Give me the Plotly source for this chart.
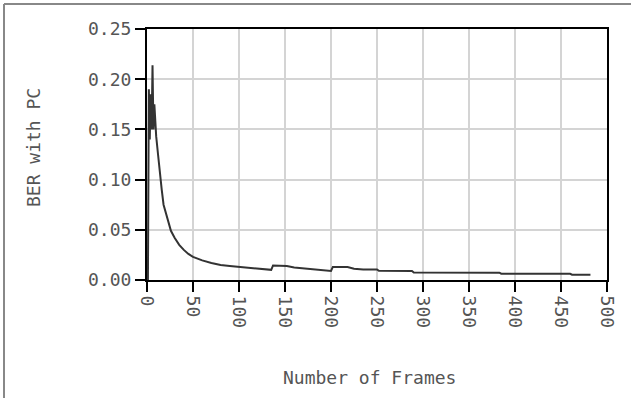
import plotly.graph_objects as go

frames = [0, 1, 2, 3, 4, 5, 6, 7, 8, 9, 10, 12, 14, 16, 18, 20, 23, 26, 30, 35, 40, 45, 50,
          60, 70, 80, 90, 100, 110, 120, 130, 135, 137, 145, 152, 160, 170, 180, 190,
          198, 200, 202, 210, 218, 225, 235, 250, 252, 288, 290, 383, 385, 460, 462, 482]
ber = [0.0, 0.0, 0.19, 0.14, 0.185, 0.15, 0.214, 0.15, 0.175, 0.155, 0.143, 0.125, 0.105,
       0.090, 0.075, 0.068, 0.057, 0.049, 0.042, 0.035, 0.030, 0.026, 0.023,
       0.0195, 0.017, 0.015, 0.014, 0.013, 0.012, 0.011, 0.0100, 0.0101, 0.0145, 0.0145,
       0.0140, 0.0125, 0.0115, 0.0108, 0.0100, 0.0085, 0.0090, 0.0130, 0.0132, 0.0130,
       0.0112, 0.0105, 0.0105, 0.0092, 0.0090, 0.0075, 0.0073, 0.0063, 0.0062, 0.0053, 0.0053]

x_ticks = [0, 50, 100, 150, 200, 250, 300, 350, 400, 450, 500]
y_ticks = [0.00, 0.05, 0.10, 0.15, 0.20, 0.25]
y_tick_text = ["0.00", "0.05", "0.10", "0.15", "0.20", "0.25"]

FONT = "DejaVu Sans Mono"
TXT = "#555555"

fig = go.Figure()
fig.add_trace(go.Scatter(x=frames, y=ber, mode="lines",
                         line=dict(color="#333333", width=2), showlegend=False))

W, H = 631, 398
L, R, T, B = 147, 24, 29, 118
pw, ph = W - L - R, H - T - B

def px2paper(px, py):
    return (px - L) / pw, (H - B - py) / ph

axis_common = dict(showline=True, linecolor="black", linewidth=2, mirror=True,
                   ticks="outside", ticklen=10, tickwidth=2, tickcolor="black",
                   showgrid=True, gridcolor="#d4d4d4", gridwidth=2, zeroline=False,
                   tickfont=dict(family=FONT, size=18, color=TXT))

fig.update_xaxes(range=[0, 500], tickvals=x_ticks, tickangle=90, **axis_common)
fig.update_yaxes(range=[0, 0.25], tickvals=y_ticks, ticktext=y_tick_text, **axis_common)

ax, _ = px2paper(33, 0)
_, ay = px2paper(0, 148)
bx, _ = px2paper(369, 0)
_, by = px2paper(0, 377)
fig.add_annotation(text="BER with PC", x=ax, y=ay, xref="paper", yref="paper",
                   textangle=-90, showarrow=False, xanchor="center", yanchor="middle",
                   font=dict(family=FONT, size=18, color=TXT))
fig.add_annotation(text="Number of Frames", x=bx, y=by, xref="paper", yref="paper",
                   showarrow=False, xanchor="center", yanchor="middle",
                   font=dict(family=FONT, size=18, color=TXT))

x0, y0 = px2paper(4, 398)
x1, y1 = px2paper(4, 4)
x2, y2 = px2paper(631, 4)
fig.add_shape(type="line", xref="paper", yref="paper", x0=x0, y0=y0, x1=x1, y1=y1,
              line=dict(color="#888888", width=2))
fig.add_shape(type="line", xref="paper", yref="paper", x0=x1, y0=y1, x1=x2, y1=y2,
              line=dict(color="#888888", width=2))

fig.update_layout(width=W, height=H, margin=dict(l=L, r=R, t=T, b=B),
                  paper_bgcolor="white", plot_bgcolor="white")
fig.write_html("out.html")
